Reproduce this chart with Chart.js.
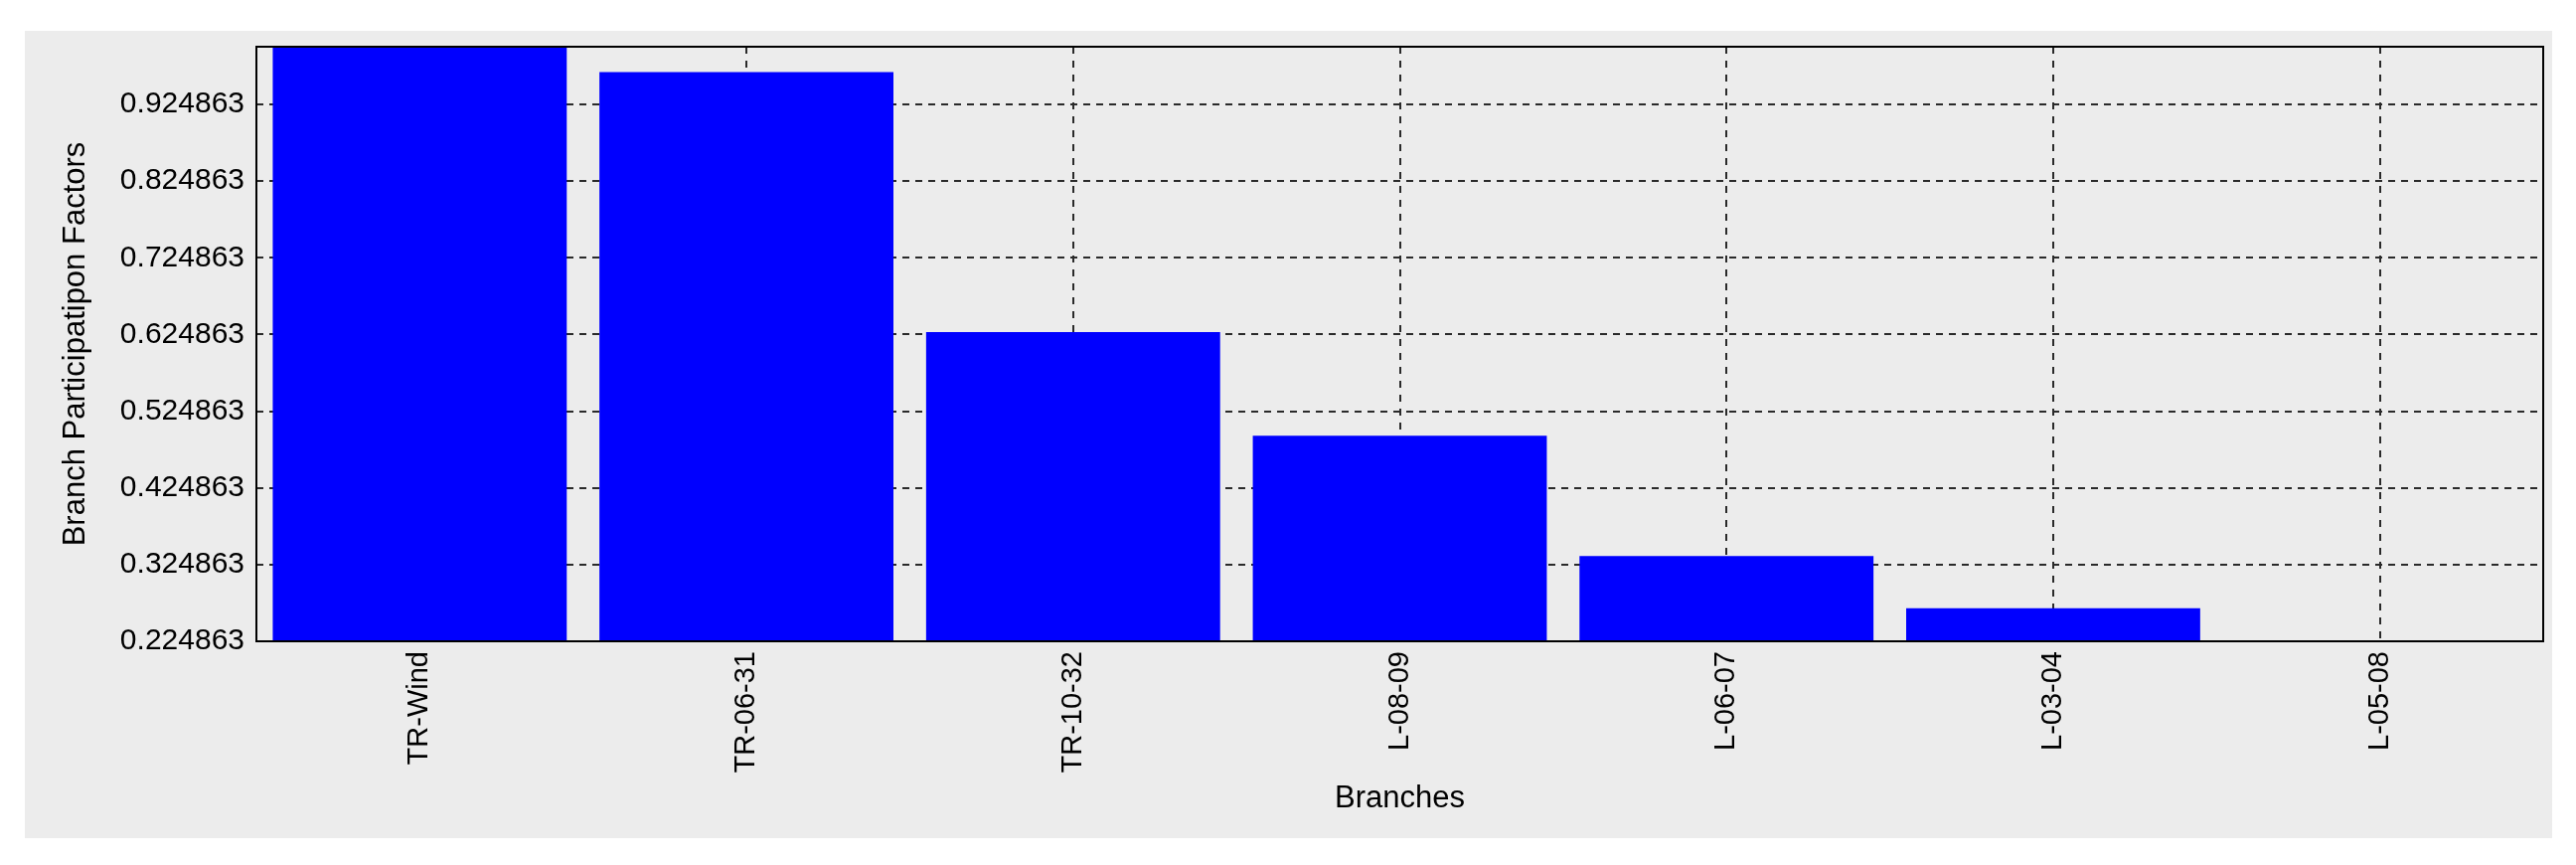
<!DOCTYPE html>
<html>
<head>
<meta charset="utf-8">
<title>Branch Participation Factors</title>
<script src="https://cdn.jsdelivr.net/npm/chart.js@4/dist/chart.umd.min.js"></script>
<style>
  body { margin: 0; background: #ffffff; }
  #panel { position: absolute; left: 25px; top: 31px; width: 2543px; height: 812px; background: #ececec; }
  #bpfChart { position: absolute; left: 0; top: 0; }
</style>
</head>
<body>
<div id="panel"></div>
<canvas id="bpfChart" width="2592" height="870"></canvas>
<script>
// data
const branches = ['TR-Wind', 'TR-06-31', 'TR-10-32', 'L-08-09', 'L-06-07', 'L-03-04', 'L-05-08'];
const factors = [1.0, 0.967, 0.628, 0.493, 0.336, 0.268, 0.224863];
const yTicks = [0.224863, 0.324863, 0.424863, 0.524863, 0.624863, 0.724863, 0.824863, 0.924863];
const yMin = 0.224863;
const yMax = 1.0;

const fontFamily = '"Liberation Sans", Arial, sans-serif';
const gridStyle = {
  color: '#2a2a2a',
  lineWidth: 2,
  drawTicks: false,
  tickLength: 0
};

// box around the plot area, like the matlab axes
const boxPlugin = {
  id: 'axesBox',
  afterDraw(chart) {
    const { ctx, chartArea } = chart;
    ctx.save();
    ctx.strokeStyle = '#000000';
    ctx.lineWidth = 2;
    ctx.strokeRect(chartArea.left, chartArea.top, chartArea.right - chartArea.left, chartArea.bottom - chartArea.top);
    ctx.restore();
  }
};

const ctx = document.getElementById('bpfChart').getContext('2d');
new Chart(ctx, {
  type: 'bar',
  data: {
    labels: branches,
    datasets: [{
      label: 'Branch Participation Factors',
      data: factors,
      backgroundColor: '#0000ff',
      borderWidth: 0,
      barPercentage: 0.9,
      categoryPercentage: 1.0
    }]
  },
  options: {
    responsive: false,
    animation: false,
    layout: { padding: { left: 0, top: 47, right: 33, bottom: 0 } },
    plugins: {
      legend: { display: false },
      tooltip: { enabled: false }
    },
    scales: {
      x: {
        grid: { ...gridStyle, offset: false },
        border: { display: false, dash: [7, 7] },
        ticks: {
          color: '#000000',
          font: { family: fontFamily, size: 29 },
          minRotation: 90,
          maxRotation: 90,
          padding: 10,
          autoSkip: false
        },
        title: {
          display: true,
          text: 'Branches',
          color: '#000000',
          font: { family: fontFamily, size: 31 },
          padding: { top: 0, bottom: 48 }
        },
        afterFit(scale) { scale.height = 225; }
      },
      y: {
        min: yMin,
        max: yMax,
        grid: gridStyle,
        border: { display: false, dash: [7, 6] },
        afterBuildTicks(scale) {
          scale.ticks = yTicks.map(v => ({ value: v }));
        },
        ticks: {
          color: '#000000',
          font: { family: fontFamily, size: 30 },
          padding: 12,
          callback: value => value.toFixed(6)
        },
        title: {
          display: true,
          text: 'Branch Participatipon Factors',
          color: '#000000',
          font: { family: fontFamily, size: 31 },
          padding: { top: 58, bottom: 0 }
        },
        afterFit(scale) { scale.width = 258; }
      }
    }
  },
  plugins: [boxPlugin]
});
</script>
</body>
</html>
